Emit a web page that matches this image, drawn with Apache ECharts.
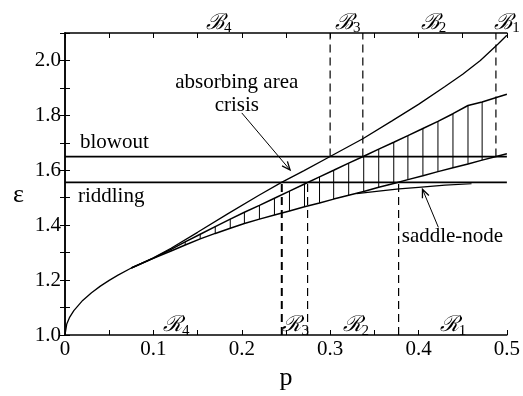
<!DOCTYPE html>
<html>
<head>
<meta charset="utf-8">
<script src="https://cdn.jsdelivr.net/npm/echarts@6/dist/echarts.min.js"></script>
<style>
  html, body { margin: 0; padding: 0; background: #fff; }
  #main { width: 523px; height: 396px; }
</style>
</head>
<body>
<div id="main"></div>
<script>
// 坐标范围
var pMin = 0, pMax = 0.5;
var epsMin = 1.0, epsMax = 2.1;

// absorbing area crisis 曲线（最上面那条）
var crisisP   = [0, 0.002, 0.005, 0.01, 0.02, 0.03, 0.04, 0.05, 0.06, 0.075, 0.1, 0.12, 0.15, 0.185, 0.219, 0.245, 0.27, 0.30, 0.337, 0.37, 0.40, 0.43, 0.45, 0.47, 0.49, 0.5];
var crisisEps = [1.0, 1.04, 1.063, 1.089, 1.126, 1.154, 1.178, 1.199, 1.218, 1.244, 1.281, 1.316, 1.374, 1.443, 1.508, 1.556, 1.598, 1.65, 1.715, 1.78, 1.84, 1.905, 1.95, 2.0, 2.06, 2.092];

// 阴影区的上下边界，同一组 p
var bandP     = [0.075, 0.10, 0.12, 0.136, 0.153, 0.170, 0.187, 0.203, 0.220, 0.237, 0.254, 0.271, 0.288, 0.304, 0.321, 0.338, 0.355, 0.372, 0.388, 0.405, 0.422, 0.439, 0.456, 0.472, 0.489, 0.5];
var upperEps  = [1.244, 1.280, 1.312, 1.339, 1.367, 1.395, 1.422, 1.447, 1.472, 1.498, 1.524, 1.550, 1.576, 1.600, 1.626, 1.651, 1.677, 1.702, 1.726, 1.752, 1.778, 1.806, 1.836, 1.849, 1.866, 1.877];
var lowerEps  = [1.244, 1.279, 1.306, 1.328, 1.350, 1.370, 1.389, 1.406, 1.422, 1.437, 1.452, 1.467, 1.481, 1.495, 1.509, 1.523, 1.538, 1.552, 1.566, 1.580, 1.595, 1.609, 1.623, 1.637, 1.651, 1.66];
var hatchFrom = 2, hatchTo = 23; // bandP 的下标范围，画竖线

// saddle-node 曲线
var saddleP   = [0.33, 0.355, 0.378, 0.40, 0.43, 0.46];
var saddleEps = [1.515, 1.524, 1.532, 1.538, 1.546, 1.551];

// 水平线
var blowoutEps = 1.65;
var riddlingEps = 1.556;

// 虚线
var topDashP = [0.30, 0.337, 0.4876];
var bottomDashP = [0.2453, 0.2745, 0.3775];
var bottomDashWidth = [2, 1.2, 1.2];

// 箭头 [p0, eps0, p1, eps1]
var arrows = [
  [0.200, 1.809, 0.2547, 1.601],
  [0.4225, 1.392, 0.4045, 1.531]
];

// 文字
var labelText  = ['absorbing area', 'crisis', 'blowout', 'riddling', 'saddle-node',
                  '{s|ℬ}{sub|4}', '{s|ℬ}{sub|3}', '{s|ℬ}{sub|2}', '{s|ℬ}{sub|1}',
                  '{s|ℛ}{sub|4}', '{s|ℛ}{sub|3}', '{s|ℛ}{sub|2}', '{s|ℛ}{sub|1}', 'ε'];
var labelP     = [0.1944, 0.1944, 0.0169, 0.0146, 0.381, 0.174, 0.32, 0.417, 0.5, 0.126, 0.261, 0.329, 0.439, -0.0528];
var labelEps   = [1.919, 1.837, 1.70, 1.506, 1.359, 2.136, 2.136, 2.136, 2.136, 1.034, 1.034, 1.034, 1.034, 1.51];
var labelAlign = ['center', 'center', 'left', 'left', 'left', 'center', 'center', 'center', 'center', 'center', 'center', 'center', 'center', 'center'];
var labelSize  = [21, 21, 21, 21, 21, 21, 21, 21, 21, 21, 21, 21, 21, 26];

var serif = '"Liberation Serif", "DejaVu Serif", serif';

function pairs(xs, ys) {
  return xs.map(function (x, i) { return [x, ys[i]]; });
}

function plainLine(data, width, dash) {
  return {
    type: 'line',
    data: data,
    showSymbol: false,
    symbol: 'none',
    silent: true,
    animation: false,
    lineStyle: { color: '#000', width: width, type: dash || 'solid' }
  };
}

var myChart = echarts.init(document.getElementById('main'));

var hatchData = [];
for (var i = hatchFrom; i <= hatchTo; i++) {
  hatchData.push([bandP[i], lowerEps[i], upperEps[i]]);
}

var series = [
  plainLine(pairs(crisisP, crisisEps), 1.3),
  plainLine(pairs(bandP, upperEps), 1.5),
  plainLine(pairs(bandP, lowerEps), 1.5),
  plainLine(pairs(saddleP, saddleEps), 1.2),
  plainLine([[pMin, blowoutEps], [pMax, blowoutEps]], 1.8),
  plainLine([[pMin, riddlingEps], [pMax, riddlingEps]], 1.8)
];

topDashP.forEach(function (p) {
  series.push(plainLine([[p, blowoutEps], [p, epsMax]], 1.2, [8, 5]));
});
bottomDashP.forEach(function (p, k) {
  series.push(plainLine([[p, epsMin], [p, riddlingEps]], bottomDashWidth[k], [8, 5]));
});

// 阴影竖线
series.push({
  type: 'custom',
  silent: true,
  animation: false,
  data: hatchData,
  renderItem: function (params, api) {
    var a = api.coord([api.value(0), api.value(1)]);
    var b = api.coord([api.value(0), api.value(2)]);
    return {
      type: 'line',
      shape: { x1: a[0], y1: a[1], x2: b[0], y2: b[1] },
      style: { stroke: '#000', lineWidth: 1 }
    };
  }
});

// 箭头
series.push({
  type: 'custom',
  silent: true,
  animation: false,
  data: arrows,
  renderItem: function (params, api) {
    var a = api.coord([api.value(0), api.value(1)]);
    var b = api.coord([api.value(2), api.value(3)]);
    var ang = Math.atan2(b[1] - a[1], b[0] - a[0]);
    var len = 9, spread = 0.4;
    var h1 = [b[0] - len * Math.cos(ang - spread), b[1] - len * Math.sin(ang - spread)];
    var h2 = [b[0] - len * Math.cos(ang + spread), b[1] - len * Math.sin(ang + spread)];
    return {
      type: 'group',
      children: [
        { type: 'line', shape: { x1: a[0], y1: a[1], x2: b[0], y2: b[1] }, style: { stroke: '#000', lineWidth: 1 } },
        { type: 'polyline', shape: { points: [h1, b, h2] }, style: { stroke: '#000', fill: null, lineWidth: 1.3 } }
      ]
    };
  }
});

// 文字标注
series.push({
  type: 'custom',
  silent: true,
  animation: false,
  clip: false,
  data: labelP.map(function (p, k) { return [p, labelEps[k], k]; }),
  renderItem: function (params, api) {
    var k = api.value(2);
    var pt = api.coord([api.value(0), api.value(1)]);
    return {
      type: 'text',
      x: pt[0],
      y: pt[1],
      style: {
        text: labelText[k],
        font: labelSize[k] + 'px ' + serif,
        fill: '#000',
        align: labelAlign[k],
        verticalAlign: 'middle',
        rich: {
          s: { fontSize: 22, fontFamily: '"DejaVu Serif", serif', fontStyle: 'italic', fill: '#000' },
          sub: { fontSize: 15, fontFamily: serif, fill: '#000', padding: [10, 0, 0, 0] }
        }
      }
    };
  }
});

var axisLineStyle = { color: '#000', width: 1.5 };

myChart.setOption({
  animation: false,
  backgroundColor: '#fff',
  grid: { left: 65, right: 13, top: 33, bottom: 51 },
  xAxis: [
    {
      type: 'value', min: pMin, max: pMax, interval: 0.05,
      name: 'p', nameLocation: 'middle', nameGap: 30,
      nameTextStyle: { fontFamily: serif, fontSize: 26, color: '#000' },
      axisLine: { lineStyle: axisLineStyle },
      axisTick: { inside: true, length: 5, lineStyle: { color: '#000', width: 1 } },
      splitLine: { show: false },
      axisLabel: {
        margin: 4, fontFamily: serif, fontSize: 21, color: '#000',
        formatter: function (v) {
          var n = Math.round(v * 100);
          if (n % 10 !== 0) return '';
          return n === 0 ? '0' : (n / 100).toFixed(1);
        }
      }
    },
    {
      type: 'value', min: pMin, max: pMax, interval: 0.05, position: 'top',
      axisLine: { lineStyle: axisLineStyle },
      axisTick: { inside: true, length: 5, lineStyle: { color: '#000', width: 1 } },
      axisLabel: { show: false },
      splitLine: { show: false }
    }
  ],
  yAxis: [
    {
      type: 'value', min: epsMin, max: epsMax, interval: 0.1,
      axisLine: { lineStyle: axisLineStyle },
      axisTick: { inside: true, length: 5, lineStyle: { color: '#000', width: 1 } },
      splitLine: { show: false },
      axisLabel: {
        margin: 4, fontFamily: serif, fontSize: 21, color: '#000',
        formatter: function (v) {
          var n = Math.round(v * 10);
          if (n % 2 !== 0) return '';
          return (n / 10).toFixed(1);
        }
      }
    },
    {
      type: 'value', min: epsMin, max: epsMax, interval: 0.1, position: 'right',
      axisLine: { lineStyle: axisLineStyle },
      axisTick: { inside: true, length: 5, lineStyle: { color: '#000', width: 1 } },
      axisLabel: { show: false },
      splitLine: { show: false }
    }
  ],
  series: series
});
</script>
</body>
</html>
